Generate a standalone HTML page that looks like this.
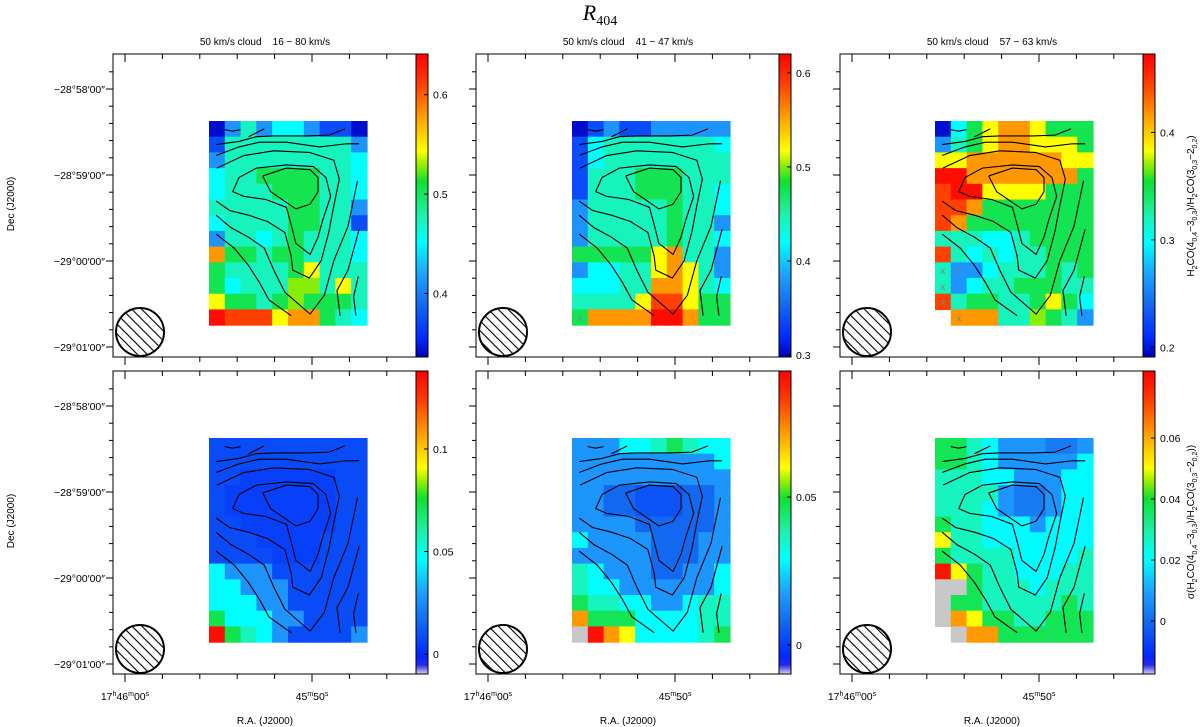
<!DOCTYPE html>
<html><head><meta charset="utf-8"><style>
html,body{margin:0;padding:0;background:#fff;}
svg{display:block;font-family:"Liberation Sans",sans-serif;}
</style></head><body>
<svg id="fig" width="1200" height="727" viewBox="0 0 1200 727" xmlns="http://www.w3.org/2000/svg">
<defs>
<pattern id="hatch" patternUnits="userSpaceOnUse" width="7" height="7" patternTransform="rotate(-45)">
<line x1="0" y1="0" x2="0" y2="7" stroke="#000" stroke-width="2.2"/>
</pattern>
</defs>
<text x="600" y="20" font-family="Liberation Serif, serif" font-style="italic" font-size="22" text-anchor="middle">R<tspan font-size="14" dy="5" font-style="normal">404</tspan></text>
</svg>
<script>
const panelTitles = ["50 km/s cloud    16 \u2212 80 km/s","50 km/s cloud    41 \u2212 47 km/s","50 km/s cloud    57 \u2212 63 km/s","","",""];
const panelRanges = [[0.336,0.641],[0.298,0.620],[0.191,0.473],[-0.0097,0.138],[-0.0098,0.0926],[-0.0174,0.082]];
const cbTicks = [[0.4,0.5,0.6],[0.3,0.4,0.5,0.6],[0.2,0.3,0.4],[0,0.05,0.1],[0,0.05],[0,0.02,0.04,0.06]];
const cbTickLabels = [["0.4","0.5","0.6"],["0.3","0.4","0.5","0.6"],["0.2","0.3","0.4"],["0","0.05","0.1"],["0","0.05"],["0","0.02","0.04","0.06"]];
const decTickLabels = ["\u221228\u00b058\u203200\u2033","\u221228\u00b059\u203200\u2033","\u221229\u00b000\u203200\u2033","\u221229\u00b001\u203200\u2033"];
const grid1 = [
[.342,.412,.473,.412,.452,.452,.412,.373,.373,.342],
[.373,.473,.473,.473,.473,.473,.473,.473,.473,.412],
[.412,.473,.473,.473,.473,.473,.473,.473,.473,.452],
[.452,.473,.473,.504,.504,.504,.504,.473,.473,.452],
[.452,.473,.473,.473,.504,.504,.504,.473,.473,.452],
[.473,.473,.473,.473,.473,.504,.504,.473,.473,.412],
[.452,.473,.473,.473,.473,.504,.504,.473,.473,.373],
[.412,.473,.473,.452,.473,.504,.473,.473,.473,.452],
[.580,.504,.504,.473,.504,.504,.473,.473,.473,.452],
[.504,.473,.473,.473,.473,.504,.543,.473,.473,.473],
[.504,.452,.473,.473,.473,.528,.528,.473,.543,.473],
[.543,.504,.504,.473,.504,.528,.504,.504,.504,.473],
[.635,.611,.611,.611,.543,.580,.580,.504,.473,.452]];
const grid2 = [
[.304,.337,.378,.337,.337,.378,.378,.378,.378,.378],
[.337,.420,.443,.443,.443,.443,.443,.443,.443,.420],
[.337,.420,.443,.443,.443,.443,.443,.443,.443,.443],
[.337,.443,.443,.443,.475,.475,.475,.443,.443,.443],
[.337,.443,.443,.443,.475,.475,.475,.443,.443,.420],
[.378,.443,.443,.443,.443,.443,.475,.443,.443,.420],
[.378,.443,.443,.443,.443,.443,.475,.443,.443,.378],
[.378,.443,.443,.443,.443,.443,.475,.443,.443,.420],
[.475,.475,.475,.475,.475,.517,.556,.443,.443,.378],
[.378,.420,.420,.443,.443,.517,.556,.517,.443,.378],
[.420,.420,.420,.443,.443,.556,.556,.517,.443,.420],
[.443,.443,.443,.443,.517,.588,.588,.517,.475,.475],
[.475,.556,.556,.556,.556,.614,.614,.556,.475,.475]];
const grid3 = [
[.197,.298,.346,.383,.417,.417,.383,.346,.346,.346],
[.262,.318,.346,.383,.417,.417,.383,.383,.383,.346],
[.383,.383,.417,.417,.417,.417,.417,.417,.383,.383],
[.467,.467,.417,.417,.417,.417,.417,.417,.417,.346],
[.445,.467,.467,.383,.383,.383,.383,.346,.346,.346],
[.445,.445,.417,.346,.346,.346,.346,.346,.346,.346],
[.445,.417,.346,.346,.346,.346,.346,.346,.346,.346],
[.318,.318,.318,.298,.298,.318,.346,.346,.346,.346],
[.445,.318,.298,.318,.298,.318,.318,.346,.346,.346],
[.318,.262,.262,.298,.318,.318,.318,.346,.318,.346],
[.318,.262,.298,.318,.318,.346,.346,.346,.318,.318],
[.445,.318,.346,.346,.318,.318,.346,.383,.346,.298],
[null,.417,.417,.417,.318,.318,.369,.346,.318,.262]];
const grid4 = [
[.008,.008,.008,.008,.008,.008,.008,.008,.008,.008],
[.008,.008,.008,.008,.008,.008,.008,.008,.008,.008],
[.008,.008,.005,.005,.005,.005,.005,.005,.008,.008],
[.008,.005,.005,.005,.005,.005,.005,.005,.008,.008],
[.008,.005,.005,.005,.005,.005,.005,.005,.008,.008],
[.008,.008,.005,.005,.005,.005,.005,.005,.008,.008],
[.008,.008,.008,.005,.005,.005,.005,.008,.008,.008],
[.008,.008,.008,.008,.005,.005,.005,.008,.008,.008],
[.046,.027,.027,.027,.008,.008,.008,.008,.008,.008],
[.046,.046,.027,.027,.027,.008,.008,.008,.008,.008],
[.046,.046,.046,.027,.027,.008,.008,.008,.008,.008],
[.072,.046,.046,.046,.027,.027,.008,.008,.008,.008],
[.135,.072,.057,.046,.027,.008,.008,.008,.008,.027]];
const grid5 = [
[.0158,.0158,.0158,.029,.029,.036,.046,.036,.029,.029],
[.0158,.0158,.0158,.0158,.0158,.0158,.0158,.0158,.0158,.029],
[.0158,.0158,.0158,.0158,.0158,.0158,.0158,.0158,.0158,.0158],
[.0158,.0158,.0075,.0075,.004,.004,.004,.0075,.0075,.0158],
[.0158,.0158,.0075,.0075,.004,.004,.004,.0075,.0075,.0158],
[.0158,.0158,.0158,.0158,.0075,.0075,.0075,.0075,.0075,.0158],
[.029,.0158,.0158,.0158,.0158,.0075,.0075,.0075,.0158,.0158],
[.0158,.0158,.0158,.0158,.0158,.0075,.0075,.0075,.0158,.0158],
[.036,.029,.0158,.0158,.0158,.0075,.0075,.0158,.0158,.029],
[.036,.029,.029,.0158,.0158,.0158,.0158,.0158,.0158,.029],
[.046,.036,.036,.029,.029,.0158,.0158,.029,.036,.036],
[.072,.046,.046,.046,.029,.029,.029,.029,.036,.036],
[NaN,.090,.072,.060,.029,.029,.029,.029,.036,.046]];
const grid6 = [
[.037,.037,.027,.020,.0075,.0075,.0075,.003,.003,.0075],
[.037,.037,.027,.020,.0075,.0075,.0075,.0075,.0075,.020],
[.027,.027,.027,.020,.020,.0075,.0075,.0075,.020,.020],
[.027,.027,.027,.027,.0075,.003,.003,.0075,.020,.020],
[.027,.027,.027,.020,.0075,.003,.003,.0075,.020,.020],
[.037,.027,.027,.020,.020,.020,.0075,.020,.020,.020],
[.050,.027,.027,.020,.020,.020,.020,.020,.020,.020],
[.037,.027,.027,.027,.027,.020,.020,.020,.020,.027],
[.079,.050,.037,.027,.027,.020,.020,.020,.027,.027],
[NaN,NaN,.037,.027,.027,.027,.020,.027,.027,.027],
[NaN,.037,.037,.027,.027,.027,.027,.027,.037,.027],
[NaN,.062,.050,.037,.037,.027,.027,.037,.037,.037],
[null,NaN,.062,.062,.037,.037,.037,.037,.037,.037]];
const grids = [grid1,grid2,grid3,grid4,grid5,grid6];
const flaggedCells = [[],[[12,0]],[[9,0],[9,1],[10,0],[11,0],[12,1]],[],[],[]];
// contours in map-cell units (column, row)
const contourLevel1 = [[3.4,3.5],[3.9,4.5],[5.5,5.6],[6.4,5.3],[6.9,4.5],[6.9,3.6],[6.4,3.1],[4.9,3.0],[3.4,3.5]];
const contourLevel2 = [[1.5,4.5],[1.9,3.6],[3.0,3.0],[4.9,2.8],[6.6,2.9],[7.4,3.6],[7.7,4.8],[7.2,6.3],[6.9,7.4],[6.4,8.5],[5.5,7.8],[5.2,6.6],[4.9,5.5],[3.6,5.0],[2.2,4.8],[1.5,4.5]];
const contourLevel3 = [[0.45,5.1],[1.3,5.7],[2.5,6.0],[3.7,6.4],[4.8,7.1],[5.2,8.6],[5.3,9.5],[6.35,10.0],[7.1,8.9],[7.6,7.0],[7.9,5.4],[8.25,3.7],[7.9,2.5],[6.35,2.0],[4.1,1.9],[2.2,2.2],[0.5,3.0]];
const contourLevel4 = [[0.45,6.0],[1.4,6.8],[2.5,7.4],[3.5,8.1],[4.1,9.5],[4.8,10.9],[6.4,12.3],[7.3,11.1],[7.9,8.9],[8.8,6.7],[9.4,3.8]];
const contourLevel5 = [[0.45,7.2],[1.6,8.1],[2.5,9.2],[3.2,10.3],[3.8,11.4],[5.2,12.4]];
const contourLevel6 = [[8.3,12.4],[8.1,10.8],[8.8,9.5],[9.5,6.9]];
const contourLevel7 = [[9.3,12.4],[9.15,11.2],[9.45,9.9]];
const contourTop1 = [[1.0,0.55],[1.5,0.65],[2.0,0.55]];
const contourTop2 = [[2.5,1.0],[3.5,0.5]];
const contourTop3 = [[0.45,1.5],[1.9,1.3],[3.0,1.0],[4.1,0.95],[6.2,0.95],[7.6,0.9],[8.6,0.5]];
const contourTop4 = [[0.45,2.2],[1.9,1.65],[3.2,1.35],[4.9,1.35],[7.0,1.65],[8.7,1.45],[9.5,1.45]];
const contours = [contourLevel1,contourLevel2,contourLevel3,contourLevel4,contourLevel5,contourLevel6,contourLevel7,contourTop1,contourTop2,contourTop3,contourTop4];

const NS="http://www.w3.org/2000/svg";
const svg=document.getElementById('fig');
function mk(tag,attrs,parent){const e=document.createElementNS(NS,tag);for(const k in attrs)e.setAttribute(k,attrs[k]);(parent||svg).appendChild(e);return e;}
const stopsTop=[[0,[0,0,180]],[0.06,[0,40,255]],[0.18,[20,110,240]],[0.27,[30,160,255]],[0.38,[0,255,255]],[0.47,[30,240,170]],[0.58,[16,224,48]],[0.64,[160,240,0]],[0.68,[255,255,0]],[0.8,[255,152,0]],[0.9,[255,64,0]],[1,[255,0,0]]];
const stopsBot=[[0,[208,208,240]],[0.03,[40,40,230]]].concat(stopsTop.slice(1));
function cmap(f,stops){f=Math.max(0,Math.min(1,f));for(let i=1;i<stops.length;i++){if(f<=stops[i][0]){const a=stops[i-1],b=stops[i];const t=(f-a[0])/(b[0]-a[0]);const c=a[1].map((v,j)=>Math.round(v+(b[1][j]-v)*t));return 'rgb('+c.join(',')+')';}}return 'rgb(255,0,0)';}
const frameL=[113,476,840], frameT=[54,371], frameW=303, frameH=303, cbW=12;
const imgL=[209,572,935], imgT=[121,438], cellW=15.8, cellH=15.7;
[stopsTop,stopsBot].forEach((st,k)=>{const g=mk('linearGradient',{id:'cb'+k,x1:0,y1:1,x2:0,y2:0},svg.querySelector('defs'));st.forEach(s=>mk('stop',{offset:s[0],'stop-color':'rgb('+s[1].join(',')+')'},g));});

for(let p=0;p<6;p++){
  const col=p%3,row=Math.floor(p/3);
  const fx=frameL[col],fy=frameT[row];
  const [vmin,vmax]=panelRanges[p];
  const stops=row===0?stopsTop:stopsBot;
  const xC=c=>imgL[col]+c*cellW, yC=r=>imgT[row]+r*cellH;
  const yV=v=>fy+frameH-(v-vmin)/(vmax-vmin)*frameH;
  const g=mk('g',{});
  
  
  if(panelTitles[p]){const t=mk('text',{x:fx+152,y:45,'font-size':10,'text-anchor':'middle',style:'white-space:pre'},g);t.textContent=panelTitles[p];
    
    }
  grids[p].forEach((rw,r)=>rw.forEach((v,c)=>{
    if(v===null)return;
    const fill=Number.isNaN(v)?'#c8c8c8':cmap((v-vmin)/(vmax-vmin),stops);
    const e=mk('rect',{x:xC(c),y:yC(r),width:cellW+0.6,height:cellH+0.6,fill:fill},g);
    
    
  }));
  flaggedCells[p].forEach(([r,c])=>{const t=mk('text',{x:xC(c+0.5),y:yC(r+0.5)+4,'font-size':10,fill:'#808080','text-anchor':'middle'},g);t.textContent='x';
    
    });
  contours.forEach(cn=>{const e=mk('polyline',{points:cn.map(q=>xC(q[0])+','+yC(q[1])).join(' '),fill:'none',stroke:'#000','stroke-width':1.1},g);
    
    });
  const bx=fx+27,by=fy+278;
  const b=mk('circle',{cx:bx,cy:by,r:24,fill:'url(#hatch)',stroke:'#000','stroke-width':2},g);
  
  
  const fr=mk('rect',{x:fx,y:fy,width:frameW,height:frameH,fill:'none',stroke:'#000','stroke-width':1},g);
  
  
  for(let i=0;i<8;i++){const x=fx+12+i*37.4;const major=(i===0||i===5);
    mk('line',{x1:x,y1:fy,x2:x,y2:fy+(major?8:5),stroke:'#000'},g);
    mk('line',{x1:x,y1:fy+frameH,x2:x,y2:fy+frameH+(major?8:5),stroke:'#000'},g);}
  for(let i=-2;i<=16;i++){const y=fy+35+i*17.2;if(y<fy+2||y>fy+frameH-2)continue;const major=(i%5===0);
    mk('line',{x1:fx-(major?7:4),y1:y,x2:fx,y2:y,stroke:'#000'},g);}
  if(col===0){decTickLabels.forEach((s,i)=>{const t=mk('text',{x:fx-8,y:fy+35+i*86+4,'font-size':10.5,'text-anchor':'end'},g);t.textContent=s;
    
    });}
  if(row===1){
    const t1=mk('text',{x:fx+12,y:fy+frameH+26,'font-size':10.5,'text-anchor':'middle'},g);
    t1.innerHTML='17<tspan font-size="7" dy="-4">h</tspan><tspan dy="4">46</tspan><tspan font-size="7" dy="-4">m</tspan><tspan dy="4">00</tspan><tspan font-size="7" dy="-4">s</tspan>';
    
    
    const t2=mk('text',{x:fx+12+5*37.4,y:fy+frameH+26,'font-size':10.5,'text-anchor':'middle'},g);
    t2.innerHTML='45<tspan font-size="7" dy="-4">m</tspan><tspan dy="4">50</tspan><tspan font-size="7" dy="-4">s</tspan>';
    
    
    const t3=mk('text',{x:fx+152,y:fy+frameH+50,'font-size':10,'text-anchor':'middle'},g);t3.textContent='R.A. (J2000)';
    
    
  }
  if(col===0){const t=mk('text',{x:0,y:0,'font-size':10,'text-anchor':'middle',transform:'translate(14,'+(fy+150)+') rotate(-90)'},g);t.textContent='Dec (J2000)';
    
    }
  const cbx=fx+frameW;
  const cb=mk('rect',{x:cbx,y:fy,width:cbW,height:frameH,fill:'url(#cb'+row+')',stroke:'#000','stroke-width':1},g);
  
  
  cbTicks[p].forEach((v,i)=>{const y=yV(v);mk('line',{x1:cbx+cbW-4,y1:y,x2:cbx+cbW,y2:y,stroke:'#000'},g);
    const t=mk('text',{x:cbx+cbW+5,y:y+4,'font-size':10.5},g);t.textContent=cbTickLabels[p][i];
    
    });
}
const s1=mk('text',{x:0,y:0,'font-size':10,'text-anchor':'middle',transform:'translate(1194,206) rotate(-90)'});
s1.innerHTML='H<tspan font-size="7" dy="3">2</tspan><tspan dy="-3">CO(4</tspan><tspan font-size="7" dy="3">0,4</tspan><tspan dy="-3">\u22123</tspan><tspan font-size="7" dy="3">0,3</tspan><tspan dy="-3">)/H</tspan><tspan font-size="7" dy="3">2</tspan><tspan dy="-3">CO(3</tspan><tspan font-size="7" dy="3">0,3</tspan><tspan dy="-3">\u22122</tspan><tspan font-size="7" dy="3">0,2</tspan><tspan dy="-3">)</tspan>';


const s2=mk('text',{x:0,y:0,'font-size':10,'text-anchor':'middle',transform:'translate(1194,522) rotate(-90)'});
s2.innerHTML='\u03c3(H<tspan font-size="7" dy="3">2</tspan><tspan dy="-3">CO(4</tspan><tspan font-size="7" dy="3">0,4</tspan><tspan dy="-3">\u22123</tspan><tspan font-size="7" dy="3">0,3</tspan><tspan dy="-3">)/H</tspan><tspan font-size="7" dy="3">2</tspan><tspan dy="-3">CO(3</tspan><tspan font-size="7" dy="3">0,3</tspan><tspan dy="-3">\u22122</tspan><tspan font-size="7" dy="3">0,2</tspan><tspan dy="-3">))</tspan>';


</script>
</body></html>
